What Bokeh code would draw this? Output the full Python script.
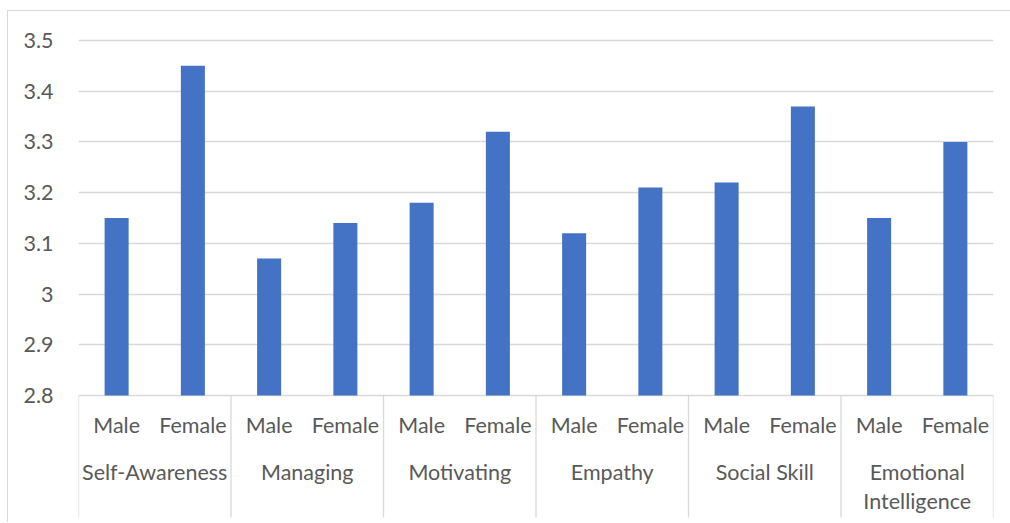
from bokeh.plotting import figure
from bokeh.models import FixedTicker, ColumnDataSource, Range1d
from bokeh.core.properties import value
from bokeh.embed import file_html
from bokeh.resources import INLINE

groups = ["Self-Awareness", "Managing", "Motivating", "Empathy", "Social Skill", "Emotional Intelligence"]
genders = ["Male", "Female"]
male_values = [3.15, 3.07, 3.18, 3.12, 3.22, 3.15]
female_values = [3.45, 3.14, 3.32, 3.21, 3.37, 3.30]
y_ticks = [2.8, 2.9, 3.0, 3.1, 3.2, 3.3, 3.4, 3.5]
y_tick_labels = {2.8: "2.8", 2.9: "2.9", 3.0: "3", 3.1: "3.1", 3.2: "3.2", 3.3: "3.3", 3.4: "3.4", 3.5: "3.5"}

FONT = "Lato"
FS = "21.5px"
TXT = "#595959"
GRID = "#d9d9d9"
BAR = "#4472C4"

# positions on slot scale
xs, vals, sub = [], [], []
for i, g in enumerate(groups):
    for j, (gen, v) in enumerate(zip(genders, (male_values[i], female_values[i]))):
        xs.append(2 * i + j + 0.5)
        vals.append(v)
        sub.append(gen)

y_base = 2.8
y_px = 507.14  # pixels per unit
def yv(px):
    return 3.5 - (px - 40) / y_px

p = figure(width=1003, height=512, output_backend="svg", toolbar_location=None,
           x_range=Range1d(0, 2 * len(groups)), y_range=Range1d(yv(518), yv(20)),
           min_border_left=70, min_border_right=18, min_border_top=9, min_border_bottom=5)
p.margin = (10, 0, 0, 7)
p.styles = {"border-top": "1px solid #d9d9d9", "border-left": "1px solid #d9d9d9"}
p.outline_line_color = None
p.xaxis.visible = False
p.xgrid.visible = False
p.ygrid.ticker = FixedTicker(ticks=y_ticks)
p.ygrid.grid_line_color = GRID
p.ygrid.grid_line_width = 1.3
yax = p.yaxis[0]
yax.ticker = FixedTicker(ticks=y_ticks)
yax.major_label_overrides = y_tick_labels
yax.axis_line_color = None
yax.major_tick_line_color = None
yax.minor_tick_line_color = None
yax.major_label_standoff = 19
yax.major_label_text_font = FONT
yax.major_label_text_font_size = FS
yax.major_label_text_color = TXT

src = ColumnDataSource(dict(x=xs, top=vals, sub=sub))
p.vbar(x="x", top="top", bottom=y_base, width=0.315, source=src, fill_color=BAR, line_color=None)

# category separators
sep_x = [2 * i for i in range(len(groups) + 1)]
p.segment(x0=sep_x, y0=[y_base] * len(sep_x), x1=sep_x, y1=[yv(517)] * len(sep_x),
          line_color=GRID, line_width=1.3)

# sub labels
p.text(x="x", y=yv(424), text="sub", source=src, text_font=value(FONT), text_font_size=FS,
       text_color=TXT, text_align="center", text_baseline="middle")

# group labels (wrapped)
gx, gy, gt = [], [], []
for i, g in enumerate(groups):
    lines = g.split(" ") if len(g) > 15 else [g]
    for k, line in enumerate(lines):
        gx.append(2 * i + 1)
        gy.append(yv(471 + 29 * k))
        gt.append(line)
p.text(x=gx, y=gy, text=gt, text_font=value(FONT), text_font_size=FS,
       text_color=TXT, text_align="center", text_baseline="middle")

open("out.html", "w").write(file_html(p, INLINE))
